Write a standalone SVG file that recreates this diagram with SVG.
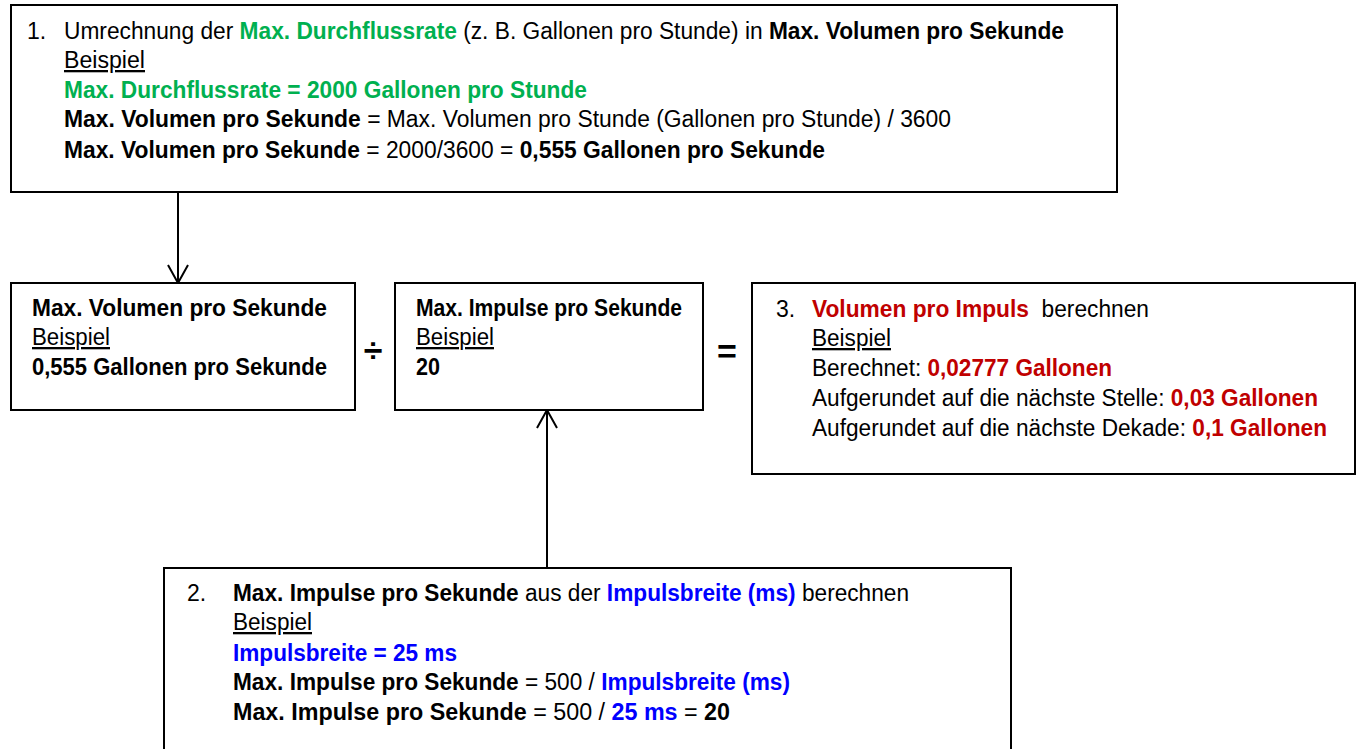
<svg xmlns="http://www.w3.org/2000/svg" width="1358" height="749" viewBox="0 0 1358 749">
<style>
text{font-family:"Liberation Sans",Arial,sans-serif;font-size:23px;fill:#000}
.b{font-weight:bold}
.g{fill:#00B050;font-weight:bold}
.r{fill:#C00000;font-weight:bold}
.bl{fill:#0000FF;font-weight:bold}
.u{text-decoration:underline}
.box{fill:#fff;stroke:#000;stroke-width:2}
.op{font-weight:bold;font-size:34px;text-anchor:middle}
.con{stroke:#000;stroke-width:2;fill:none}
</style>
<defs>
<marker id="arr" viewBox="-20 -12 22 24" refX="0" refY="0" markerWidth="22" markerHeight="24" markerUnits="userSpaceOnUse" orient="auto">
<path d="M-18,-10 L0,0 L-18,10" fill="none" stroke="#000" stroke-width="2"/>
</marker>
</defs>
<rect width="1358" height="749" fill="#fff"/>
<g id="connectors">
<line class="con" x1="178" y1="192" x2="178" y2="283" marker-end="url(#arr)"/>
<line class="con" x1="547" y1="568" x2="547" y2="410" marker-end="url(#arr)"/>
</g>
<g id="step1">
<rect class="box" x="11" y="5" width="1106" height="187"/>
<text x="27" y="39">1.</text>
<text x="64" y="39" textLength="1000" lengthAdjust="spacingAndGlyphs">Umrechnung der <tspan class="g">Max. Durchflussrate</tspan> (z. B. Gallonen pro Stunde) in <tspan class="b">Max. Volumen pro Sekunde</tspan></text>
<text x="64" y="68" class="u" textLength="81" lengthAdjust="spacingAndGlyphs">Beispiel</text>
<text x="64" y="98" class="g" textLength="523" lengthAdjust="spacingAndGlyphs">Max. Durchflussrate = 2000 Gallonen pro Stunde</text>
<text x="64" y="127" textLength="887" lengthAdjust="spacingAndGlyphs"><tspan class="b">Max. Volumen pro Sekunde</tspan> = Max. Volumen pro Stunde (Gallonen pro Stunde) / 3600</text>
<text x="64" y="158" textLength="761" lengthAdjust="spacingAndGlyphs"><tspan class="b">Max. Volumen pro Sekunde</tspan> = 2000/3600 = <tspan class="b">0,555 Gallonen pro Sekunde</tspan></text>
</g>
<g id="volume">
<rect class="box" x="11" y="283" width="344" height="127"/>
<text x="32" y="316" class="b" textLength="295" lengthAdjust="spacingAndGlyphs">Max. Volumen pro Sekunde</text>
<text x="32" y="345" class="u" textLength="78" lengthAdjust="spacingAndGlyphs">Beispiel</text>
<text x="32" y="375" class="b" textLength="295" lengthAdjust="spacingAndGlyphs">0,555 Gallonen pro Sekunde</text>
</g>
<g id="divide"><text x="373" y="362" class="op">÷</text></g>
<g id="pulses">
<rect class="box" x="395" y="283" width="308" height="127"/>
<text x="416" y="316" class="b" textLength="266" lengthAdjust="spacingAndGlyphs">Max. Impulse pro Sekunde</text>
<text x="416" y="345" class="u" textLength="78" lengthAdjust="spacingAndGlyphs">Beispiel</text>
<text x="416" y="375" class="b" textLength="24" lengthAdjust="spacingAndGlyphs">20</text>
</g>
<g id="equals"><text x="727" y="363" class="op">=</text></g>
<g id="step3">
<rect class="box" x="752" y="283" width="603" height="191"/>
<text x="776" y="317">3.</text>
<text x="812" y="317" textLength="337" lengthAdjust="spacingAndGlyphs"><tspan class="r">Volumen pro Impuls</tspan>&#160; berechnen</text>
<text x="812" y="346" class="u" textLength="79" lengthAdjust="spacingAndGlyphs">Beispiel</text>
<text x="812" y="376" textLength="300" lengthAdjust="spacingAndGlyphs">Berechnet: <tspan class="r">0,02777 Gallonen</tspan></text>
<text x="812" y="406" textLength="506" lengthAdjust="spacingAndGlyphs">Aufgerundet auf die nächste Stelle: <tspan class="r">0,03 Gallonen</tspan></text>
<text x="812" y="436" textLength="515" lengthAdjust="spacingAndGlyphs">Aufgerundet auf die nächste Dekade: <tspan class="r">0,1 Gallonen</tspan></text>
</g>
<g id="step2">
<rect class="box" x="164" y="568" width="847" height="190"/>
<text x="187" y="601">2.</text>
<text x="233" y="601" textLength="676" lengthAdjust="spacingAndGlyphs"><tspan class="b">Max. Impulse pro Sekunde</tspan> aus der <tspan class="bl">Impulsbreite (ms)</tspan> berechnen</text>
<text x="233" y="630" class="u" textLength="79" lengthAdjust="spacingAndGlyphs">Beispiel</text>
<text x="233" y="661" class="bl" textLength="224" lengthAdjust="spacingAndGlyphs">Impulsbreite = 25 ms</text>
<text x="233" y="690" textLength="557" lengthAdjust="spacingAndGlyphs"><tspan class="b">Max. Impulse pro Sekunde</tspan> = 500 / <tspan class="bl">Impulsbreite (ms)</tspan></text>
<text x="233" y="720" textLength="497" lengthAdjust="spacingAndGlyphs"><tspan class="b">Max. Impulse pro Sekunde</tspan> = 500 / <tspan class="bl">25 ms</tspan> = <tspan class="b">20</tspan></text>
</g>
</svg>
